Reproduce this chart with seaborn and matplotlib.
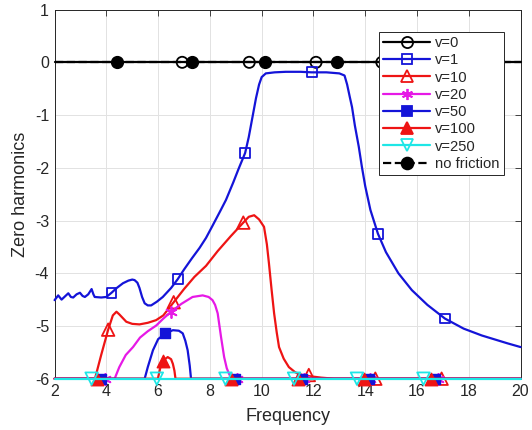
import numpy as np
import pandas as pd
import matplotlib
matplotlib.use("Agg")
import matplotlib.pyplot as plt
import seaborn as sns
from matplotlib.lines import Line2D

# ---------------- data ----------------
x_v0 = [2.0, 20.0]
y_v0 = [0.0, 0.0]
mx_v0 = [6.93, 9.52, 12.1, 14.64, 17.2]
my_v0 = [0, 0, 0, 0, 0]

x_v1 = [2.0, 2.14, 2.27, 2.4, 2.53, 2.63, 2.72, 2.85, 2.98, 3.08, 3.17, 3.3, 3.43,
        3.5, 3.55, 3.8, 4.0, 4.2, 4.4, 4.64, 4.85, 5.0, 5.09, 5.2, 5.28, 5.38, 5.48,
        5.6, 5.73, 5.95, 6.18, 6.5, 6.76, 7.0, 7.3, 7.6, 7.85, 8.1, 8.4, 8.62, 8.9,
        9.1, 9.36, 9.5, 9.64, 9.78, 9.9, 10.0, 10.16, 10.5, 10.93, 11.5, 11.93, 12.5,
        13.0, 13.2, 13.3, 13.4, 13.49, 13.6, 13.75, 13.87, 14.0, 14.2, 14.49, 14.8,
        15.28, 15.8, 16.4, 17.08, 17.8, 18.5, 18.9, 19.5, 20.0]
y_v1 = [-4.51, -4.42, -4.50, -4.44, -4.38, -4.45, -4.46, -4.40, -4.37, -4.43, -4.45, -4.40, -4.30,
        -4.40, -4.45, -4.46, -4.45, -4.37, -4.28, -4.19, -4.14, -4.12, -4.13, -4.18, -4.28, -4.45, -4.57,
        -4.61, -4.61, -4.54, -4.45, -4.28, -4.11, -3.93, -3.72, -3.52, -3.33, -3.10, -2.82, -2.61, -2.28,
        -2.03, -1.72, -1.42, -1.05, -0.68, -0.42, -0.28, -0.21, -0.19, -0.18, -0.18, -0.19, -0.19,
        -0.21, -0.25, -0.42, -0.65, -0.85, -1.20, -1.60, -1.98, -2.35, -2.80, -3.25, -3.60,
        -4.00, -4.32, -4.60, -4.86, -5.05, -5.18, -5.24, -5.33, -5.40]
mx_v1 = [4.2, 6.76, 9.36, 11.93, 14.49, 17.08]
my_v1 = [-4.37, -4.11, -1.72, -0.19, -3.25, -4.86]

x_v10 = [2.0, 3.56, 3.8, 4.07, 4.25, 4.39, 4.5, 4.77, 5.0, 5.28, 5.6, 5.92, 6.2, 6.6,
         7.0, 7.4, 7.85, 8.3, 8.8, 9.29, 9.5, 9.71, 9.9, 10.09, 10.2, 10.28, 10.38,
         10.48, 10.58, 10.67, 10.85, 11.05, 11.3, 11.57, 11.82, 12.3, 12.8, 20.0]
y_v10 = [-6.0, -6.0, -5.55, -5.07, -4.80, -4.73, -4.78, -4.92, -4.96, -4.97, -4.94, -4.89, -4.80, -4.55,
         -4.30, -4.07, -3.86, -3.58, -3.30, -3.04, -2.93, -2.90, -2.98, -3.12, -3.45, -3.81, -4.30,
         -4.76, -5.12, -5.40, -5.62, -5.78, -5.88, -5.93, -5.95, -5.98, -6.0, -6.0]
mx_v10 = [4.07, 6.6, 9.29, 11.82, 14.39, 16.95]
my_v10 = [-5.07, -4.55, -3.04, -5.93, -6.0, -6.0]

x_v20 = [2.0, 4.32, 4.5, 4.75, 5.03, 5.3, 5.6, 5.93, 6.2, 6.5, 6.9, 7.33, 7.72, 7.95,
         8.1, 8.2, 8.3, 8.43, 8.55, 8.65, 8.75, 8.85, 20.0]
y_v20 = [-6.0, -6.0, -5.78, -5.55, -5.40, -5.22, -5.10, -4.99, -4.86, -4.73, -4.58, -4.45, -4.42, -4.45,
         -4.51, -4.60, -4.76, -5.21, -5.59, -5.80, -5.92, -6.0, -6.0]
mx_v20 = [3.95, 6.5, 9.05, 11.65, 14.2, 16.8]
my_v20 = [-6.0, -4.73, -6.0, -6.0, -6.0, -6.0]

x_v50 = [2.0, 5.48, 5.6, 5.8, 6.0, 6.28, 6.57, 6.8, 6.95, 7.05, 7.14, 7.22, 7.27, 20.0]
y_v50 = [-6.0, -6.0, -5.78, -5.46, -5.25, -5.14, -5.08, -5.09, -5.14, -5.28, -5.46, -5.75, -6.0, -6.0]
mx_v50 = [3.81, 6.28, 8.95, 11.55, 14.13, 16.7]
my_v50 = [-6.0, -5.14, -6.0, -6.0, -6.0, -6.0]

x_v100 = [2.0, 5.99, 6.08, 6.18, 6.37, 6.5, 6.57, 6.63, 6.67, 20.0]
y_v100 = [-6.0, -6.0, -5.8, -5.66, -5.59, -5.63, -5.72, -5.85, -6.0, -6.0]
mx_v100 = [3.65, 6.18, 8.8, 11.4, 13.95, 16.55]
my_v100 = [-6.0, -5.66, -6.0, -6.0, -6.0, -6.0]

x_v250 = [2.0, 20.0]
y_v250 = [-6.0, -6.0]
mx_v250 = [3.43, 5.95, 8.6, 11.25, 13.68, 16.25]
my_v250 = [-6.0, -6.0, -6.0, -6.0, -6.0, -6.0]

x_nf = [2.0, 20.0]
y_nf = [0.0, 0.0]
mx_nf = [4.41, 7.30, 10.12, 12.92, 15.7, 18.5]
my_nf = [0, 0, 0, 0, 0, 0]

labels = ["v=0", "v=1", "v=10", "v=20", "v=50", "v=100", "v=250", "no friction"]
x_ticks = [2, 4, 6, 8, 10, 12, 14, 16, 18, 20]
y_ticks = [-6, -5, -4, -3, -2, -1, 0, 1]

# ---------------- styling ----------------
sns.set_style("white")
plt.rcParams["font.family"] = ["Liberation Sans", "DejaVu Sans"]

BLUE = "#1414d8"
RED = "#ee1414"
MAG = "#e619e6"
CYAN = "#1ee6e6"
BLACK = "#000000"

series = [
    (x_v0, y_v0, mx_v0, my_v0, BLACK, "o", False, "-", 8.0),
    (x_v1, y_v1, mx_v1, my_v1, BLUE, "s", False, "-", 7.0),
    (x_v10, y_v10, mx_v10, my_v10, RED, "^", False, "-", 9.0),
    (x_v20, y_v20, mx_v20, my_v20, MAG, (6, 2, 0), False, "-", 8.0),
    (x_v50, y_v50, mx_v50, my_v50, BLUE, "s", True, "-", 7.0),
    (x_v100, y_v100, mx_v100, my_v100, RED, "^", True, "-", 9.0),
    (x_v250, y_v250, mx_v250, my_v250, CYAN, "v", False, "-", 9.0),
    (x_nf, y_nf, mx_nf, my_nf, BLACK, "o", True, "--", 8.5),
]

fig = plt.figure(figsize=(5.32, 4.30), dpi=100)
ax = fig.add_axes([0.1026, 0.1193, 0.8759, 0.8584])

handles = []
for i, (xs, ys, mxs, mys, col, mk, filled, ls, ms) in enumerate(series):
    z = 3 + i
    df = pd.DataFrame({"Frequency": xs, "val": ys})
    sns.lineplot(data=df, x="Frequency", y="val", ax=ax, color=col, lw=1.6,
                 linestyle=ls, estimator=None, sort=False, zorder=z)
    dm = pd.DataFrame({"Frequency": mxs, "val": mys})
    if mk == (6, 2, 0):
        sns.scatterplot(data=dm, x="Frequency", y="val", ax=ax, marker=mk,
                        s=ms ** 2, color=col, linewidth=1.3, zorder=z + 0.5, clip_on=False)
    elif filled:
        sns.scatterplot(data=dm, x="Frequency", y="val", ax=ax, marker=mk,
                        s=ms ** 2, color=col, edgecolor=col, linewidth=1.0,
                        zorder=z + 0.5, clip_on=False)
    else:
        sns.scatterplot(data=dm, x="Frequency", y="val", ax=ax, marker=mk,
                        s=ms ** 2, facecolor="none", edgecolor=col, linewidth=1.3,
                        zorder=z + 0.5, clip_on=False)
    handles.append(Line2D([], [], color=col, lw=1.6, linestyle=ls, marker=mk,
                          markersize=ms, markerfacecolor=(col if filled else "none"),
                          markeredgecolor=col, markeredgewidth=1.3))

for line in ax.lines:
    line.set_clip_on(False)

ax.set_xlim(2, 20)
ax.set_ylim(-6, 1)
ax.set_xticks(x_ticks)
ax.set_yticks(y_ticks)
ax.set_xticklabels([str(t) for t in x_ticks])
ax.set_yticklabels([str(t) for t in y_ticks])
ax.grid(True, color="#e2e2e2", lw=0.7)
ax.set_axisbelow(True)
for sp in ax.spines.values():
    sp.set_color("#262626")
    sp.set_linewidth(0.7)
    sp.set_visible(True)
ax.tick_params(direction="in", length=4, width=0.6, colors="#262626",
               top=True, right=True, labelsize=11.5, pad=4)
ax.set_xlabel("Frequency", fontsize=13, color="#262626", labelpad=6)
ax.set_ylabel("Zero harmonics", fontsize=13, color="#262626", labelpad=4)

leg = ax.legend(handles, labels, loc="upper right", bbox_to_anchor=(0.964, 0.94),
                borderaxespad=0, fontsize=10.6, frameon=True, fancybox=False,
                framealpha=1, edgecolor="#262626", handlelength=3.2,
                handletextpad=0.3, labelspacing=0.22, borderpad=0.3)
leg.get_frame().set_linewidth(0.7)
leg.set_zorder(20)

fig.savefig("out.png", dpi=100)
